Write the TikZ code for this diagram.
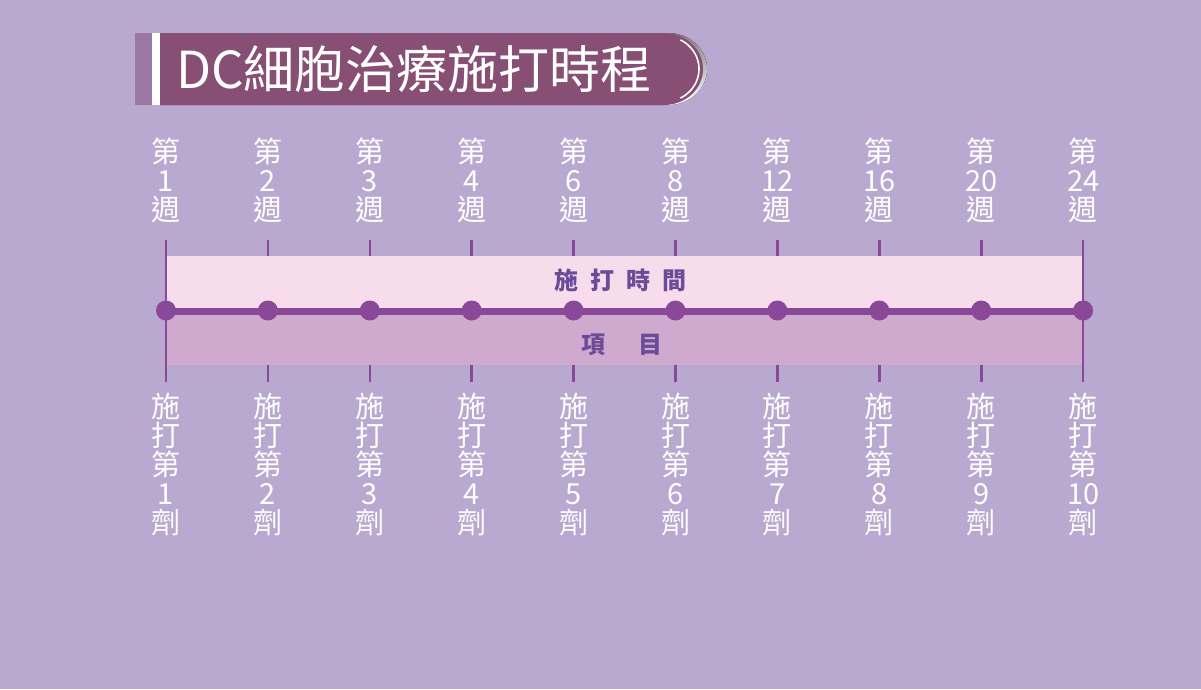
\documentclass[tikz,border=0pt]{standalone}
\usepackage{fontspec}
\newfontfamily\cjk{Noto Sans CJK TC}
\usetikzlibrary{calc, positioning}
\definecolor{bgpurple}{HTML}{B9A9D0}
\definecolor{plum}{HTML}{874F73}
\definecolor{stripe}{HTML}{9B77A4}
\definecolor{shade}{HTML}{AB95BE}
\definecolor{bandtop}{HTML}{F7DDEC}
\definecolor{bandlow}{HTML}{D0A9CE}
\definecolor{axis}{HTML}{8A4898}
\definecolor{itemtxt}{HTML}{6C4C98}

\begin{document}
\begin{tikzpicture}[
    x=1pt, y=-1pt,
    titletxt/.style={text=white, font=\cjk\fontsize{51}{56}\selectfont, inner sep=0pt, anchor=west},
    weeklbl/.style={text=white, font=\cjk\fontsize{29}{29}\selectfont, align=center, inner sep=0pt},
    itemlbl/.style={text=itemtxt, font=\cjk\bfseries\fontsize{24}{26}\selectfont, inner sep=0pt},
    tick/.style={draw=axis, line width=2.6pt},
    dot/.style={circle, fill=axis, minimum size=20pt, inner sep=0pt}
]
\fill[bgpurple] (0,0) rectangle (1201,689);
\useasboundingbox (0,0) rectangle (1201,689);

% title bar
\fill[stripe] (135,33) rectangle (152,105);
\fill[white] (152,33) rectangle (160,105);
\fill[shade] (160,33) -- (668,33) arc[start angle=-90, end angle=90, x radius=39, y radius=36] -- (160,105) -- cycle;
\fill[plum] (160,33) -- (664,33) arc[start angle=-90, end angle=90, x radius=39, y radius=36] -- (160,105) -- cycle;
\draw[white, line width=1.6pt] ($(664,69)+(-62:35 and 33)$) arc[start angle=-62, end angle=62, x radius=35, y radius=33];
\node[titletxt] (title) at (176,69) {DC細胞治療施打時程};

% bands
\fill[bandtop] (166,256) rectangle (1083,311);
\fill[bandlow] (166,311) rectangle (1083,365);
\node[itemlbl] (when) at (620,280) {施\hspace{12pt}打\hspace{12pt}時\hspace{12pt}間};
\node[itemlbl] (item) at (622,345) {項\hspace{34pt}目};

% ticks, dots and labels
\foreach \wk [count=\i] in {1,2,3,4,6,8,12,16,20,24} {
  \pgfmathsetmacro\xx{166+(\i-1)*101.9}
  \coordinate (ta\i) at (\xx,240);
  \coordinate (tb\i) at (\xx,256);
  \coordinate (ba\i) at (\xx,365);
  \coordinate (bb\i) at (\xx,382);
  \draw[tick] (ta\i) -- (tb\i);
  \draw[tick] (ba\i) -- (bb\i);
  \node[weeklbl, anchor=north] (wk\i) at (\xx,138) {第\\\wk\\週};
  \node[weeklbl, anchor=north] (dose\i) at (\xx,393) {施\\打\\第\\\i\\劑};
}
\draw[tick] (tb1) -- (ba1);
\draw[tick] (tb10) -- (ba10);

\draw[axis, line width=7pt] (166,311) -- (1083,311);
\foreach \i in {1,...,10} {
  \node[dot] (d\i) at ($(tb\i)!0.5!(ba\i)$) {};
}
\end{tikzpicture}
\end{document}
